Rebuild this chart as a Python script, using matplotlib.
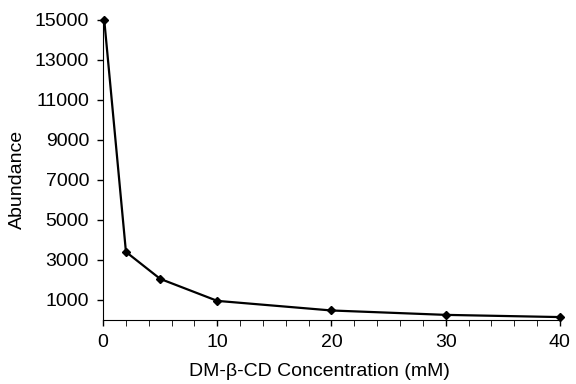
import matplotlib.pyplot as plt
from matplotlib.ticker import MultipleLocator

plt.rcParams['font.family'] = ['Liberation Sans', 'DejaVu Sans']

conc = [0.1, 2, 5, 10, 20, 30, 40]
abundance = [15000, 3400, 2050, 950, 470, 250, 140]
yticks = [1000, 3000, 5000, 7000, 9000, 11000, 13000, 15000]

fig = plt.figure(figsize=(5.76, 3.84), dpi=100)
ax = fig.add_axes([0.179, 0.167, 0.793, 0.781])

ax.plot(conc, abundance, color='black', lw=1.6, marker='D', ms=4, clip_on=False)

ax.set_xlim(0, 40)
ax.set_ylim(0, 15000)
ax.set_yticks(yticks)
ax.xaxis.set_major_locator(MultipleLocator(10))
ax.xaxis.set_minor_locator(MultipleLocator(2))
ax.tick_params(axis='both', direction='out', labelsize=14, width=1)
ax.tick_params(axis='x', which='both', length=4)
ax.tick_params(axis='y', length=4, pad=6)
ax.tick_params(axis='x', pad=6)

for s in ['top', 'right']:
    ax.spines[s].set_visible(False)

ax.set_xlabel('DM-β-CD Concentration (mM)', fontsize=14, va='center')
ax.set_ylabel('Abundance', fontsize=14, va='center')
ax.xaxis.set_label_coords(0.473, -0.172)
ax.yaxis.set_label_coords(-0.188, 0.467)

fig.savefig('out.png', dpi=100)
